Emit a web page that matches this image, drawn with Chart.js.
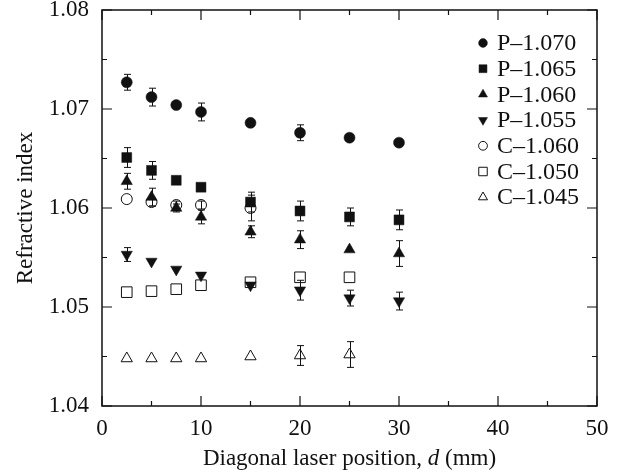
<!DOCTYPE html>
<html>
<head>
<meta charset="utf-8">
<script src="https://cdn.jsdelivr.net/npm/chart.js@4/dist/chart.umd.min.js"></script>
<style>
  html, body { margin: 0; padding: 0; background: #fff; }
  #chart { display: block; }
</style>
</head>
<body>
<canvas id="chart" width="623" height="476"></canvas>
<script>
// laser positions d (mm)
const xPositions = [2.5, 5, 7.5, 10, 15, 20, 25, 30];

const xTicks = [0, 10, 20, 30, 40, 50];
const xMinorTicks = [5, 15, 25, 35, 45];
const yTicks = [1.04, 1.05, 1.06, 1.07, 1.08];
const yMinorTicks = [1.045, 1.055, 1.065, 1.075];

const seriesLabels = ["P–1.070", "P–1.065", "P–1.060", "P–1.055", "C–1.060", "C–1.050", "C–1.045"];

const p1070 = [1.0727, 1.0712, 1.0704, 1.0697, 1.0686, 1.0676, 1.0671, 1.0666];
const p1070Err = [0.0008, 0.0009, 0, 0.0009, 0, 0.0008, 0, 0];

const p1065 = [1.0651, 1.0638, 1.0628, 1.0621, 1.0606, 1.0597, 1.0591, 1.0588];
const p1065Err = [0.001, 0.0009, 0, 0, 0.001, 0.001, 0.0009, 0.001];

const p1060 = [1.0627, 1.0611, 1.0600, 1.0591, 1.0576, 1.0568, 1.0558, 1.0554];
const p1060Err = [0.0008, 0.0009, 0.0004, 0.0007, 0.0006, 0.0009, 0, 0.0013];

const p1055 = [1.0553, 1.0546, 1.0538, 1.0532, 1.0522, 1.0517, 1.0509, 1.0506];
const p1055Err = [0.0007, 0, 0, 0, 0, 0.001, 0.0008, 0.0009];

const c1060 = [1.0609, 1.0606, 1.0603, 1.0603, 1.0600];
const c1060Err = [0, 0.0004, 0.0004, 0.0004, 0.0013];

const c1050 = [1.0515, 1.0516, 1.0518, 1.0522, 1.0525, 1.0530, 1.0530];
const c1050Err = [0, 0, 0, 0, 0, 0, 0];

const c1045 = [1.0448, 1.0448, 1.0448, 1.0448, 1.0450, 1.0451, 1.0452];
const c1045Err = [0, 0, 0, 0, 0, 0.001, 0.0013];

const FONT = "'Liberation Serif', 'Times New Roman', serif";
const INK = "#111";

function toPoints(vals, errs) {
  return vals.map((v, i) => ({ x: xPositions[i], y: v, err: errs[i] }));
}

function series(label, vals, errs, style, radius, filled, rotation) {
  return {
    label: label,
    data: toPoints(vals, errs),
    pointStyle: style,
    pointRadius: radius,
    pointHoverRadius: radius,
    pointRotation: rotation || 0,
    pointBackgroundColor: filled ? INK : "rgba(0,0,0,0)",
    pointBorderColor: INK,
    pointBorderWidth: filled ? 0.5 : 1,
    showLine: false
  };
}

// error bars, drawn behind the markers
const errorBarPlugin = {
  id: "errorBars",
  beforeDatasetsDraw(chart) {
    const ctx = chart.ctx;
    const yScale = chart.scales.y;
    ctx.save();
    ctx.strokeStyle = INK;
    ctx.lineWidth = 1;
    chart.data.datasets.forEach((ds, di) => {
      const meta = chart.getDatasetMeta(di);
      meta.data.forEach((pt, i) => {
        const e = ds.data[i].err;
        if (!e) return;
        const top = yScale.getPixelForValue(ds.data[i].y + e);
        const bot = yScale.getPixelForValue(ds.data[i].y - e);
        const x = Math.round(pt.x) + 0.5;
        ctx.beginPath();
        ctx.moveTo(x, top);
        ctx.lineTo(x, bot);
        ctx.moveTo(x - 3.5, top);
        ctx.lineTo(x + 3.5, top);
        ctx.moveTo(x - 3.5, bot);
        ctx.lineTo(x + 3.5, bot);
        ctx.stroke();
      });
    });
    ctx.restore();
  }
};

// box round the plot with inward ticks on all four sides
const framePlugin = {
  id: "frame",
  beforeDatasetsDraw(chart) {
    const ctx = chart.ctx;
    const a = chart.chartArea;
    const xs = chart.scales.x;
    const ys = chart.scales.y;
    ctx.save();
    ctx.strokeStyle = INK;
    ctx.lineWidth = 1.5;
    ctx.strokeRect(a.left, a.top, a.right - a.left, a.bottom - a.top);
    ctx.lineWidth = 1.2;
    ctx.beginPath();
    const xTick = (v, len) => {
      const px = xs.getPixelForValue(v);
      ctx.moveTo(px, a.bottom);
      ctx.lineTo(px, a.bottom - len);
      ctx.moveTo(px, a.top);
      ctx.lineTo(px, a.top + len);
    };
    const yTick = (v, len) => {
      const py = ys.getPixelForValue(v);
      ctx.moveTo(a.left, py);
      ctx.lineTo(a.left + len, py);
      ctx.moveTo(a.right, py);
      ctx.lineTo(a.right - len, py);
    };
    xTicks.forEach(v => xTick(v, 10));
    xMinorTicks.forEach(v => xTick(v, 5));
    yTicks.forEach(v => yTick(v, 10));
    yMinorTicks.forEach(v => yTick(v, 5));
    ctx.stroke();
    ctx.restore();
  }
};

// x title with italic d
const xTitlePlugin = {
  id: "xTitle",
  afterDraw(chart) {
    const ctx = chart.ctx;
    const a = chart.chartArea;
    const parts = [
      { t: "Diagonal laser position, ", f: "23px " + FONT },
      { t: "d", f: "italic 23px " + FONT },
      { t: " (mm)", f: "23px " + FONT }
    ];
    ctx.save();
    let total = 0;
    parts.forEach(p => { ctx.font = p.f; p.w = ctx.measureText(p.t).width; total += p.w; });
    let x = (a.left + a.right) / 2 - total / 2;
    ctx.fillStyle = INK;
    ctx.textBaseline = "alphabetic";
    ctx.textAlign = "left";
    parts.forEach(p => {
      ctx.font = p.f;
      ctx.fillText(p.t, x, 465);
      x += p.w;
    });
    ctx.restore();
  }
};

// legend in the upper right of the plot
const legendPlugin = {
  id: "legendBox",
  afterDraw(chart) {
    const ctx = chart.ctx;
    ctx.save();
    ctx.font = "24px " + FONT;
    ctx.textBaseline = "middle";
    ctx.textAlign = "left";
    chart.data.datasets.forEach((ds, i) => {
      const y = 43 + i * 25.7;
      ctx.fillStyle = ds.pointBackgroundColor;
      ctx.strokeStyle = INK;
      ctx.lineWidth = ds.pointBorderWidth;
      Chart.helpers.drawPoint(ctx, {
        pointStyle: ds.pointStyle,
        rotation: ds.pointRotation,
        radius: ds.pointRadius * 0.8,
        borderWidth: ds.pointBorderWidth
      }, 483, y);
      ctx.fillStyle = INK;
      ctx.fillText(ds.label, 497, y + 1);
    });
    ctx.restore();
  }
};

const ctx = document.getElementById("chart").getContext("2d");

const chart = new Chart(ctx, {
  type: "scatter",
  data: {
    datasets: [
      series(seriesLabels[0], p1070, p1070Err, "circle", 5.5, true),
      series(seriesLabels[1], p1065, p1065Err, "rect", 7, true),
      series(seriesLabels[2], p1060, p1060Err, "triangle", 6.5, true),
      series(seriesLabels[3], p1055, p1055Err, "triangle", 6.5, true, 180),
      series(seriesLabels[4], c1060, c1060Err, "circle", 5.5, false),
      series(seriesLabels[5], c1050, c1050Err, "rect", 7.5, false),
      series(seriesLabels[6], c1045, c1045Err, "triangle", 6.5, false)
    ]
  },
  options: {
    responsive: false,
    animation: false,
    devicePixelRatio: 1,
    layout: { padding: { top: 10, right: 26, bottom: 0, left: 0 } },
    plugins: {
      legend: { display: false },
      tooltip: { enabled: false }
    },
    scales: {
      x: {
        type: "linear",
        min: 0,
        max: 50,
        afterBuildTicks: s => { s.ticks = xTicks.map(v => ({ value: v })); },
        afterFit: s => { s.height = 70; s.paddingLeft = 0; s.paddingRight = 0; },
        grid: { display: false, drawTicks: false },
        border: { display: false },
        ticks: {
          padding: 9,
          color: INK,
          font: { family: FONT, size: 23 },
          maxRotation: 0
        }
      },
      y: {
        type: "linear",
        min: 1.04,
        max: 1.08,
        afterBuildTicks: s => { s.ticks = yTicks.map(v => ({ value: v })); },
        // fixed plot box: drop the label overflow padding
        afterFit: s => { s.width = 102; s.paddingTop = 0; s.paddingBottom = 0; },
        grid: { display: false, drawTicks: false },
        border: { display: false },
        ticks: {
          padding: 13,
          color: INK,
          font: { family: FONT, size: 23 },
          callback: v => v.toFixed(2)
        },
        title: {
          display: true,
          text: "Refractive index",
          color: INK,
          font: { family: FONT, size: 23 },
          padding: { top: 12, bottom: 0 }
        }
      }
    }
  },
  plugins: [framePlugin, errorBarPlugin, xTitlePlugin, legendPlugin]
});
</script>
</body>
</html>
